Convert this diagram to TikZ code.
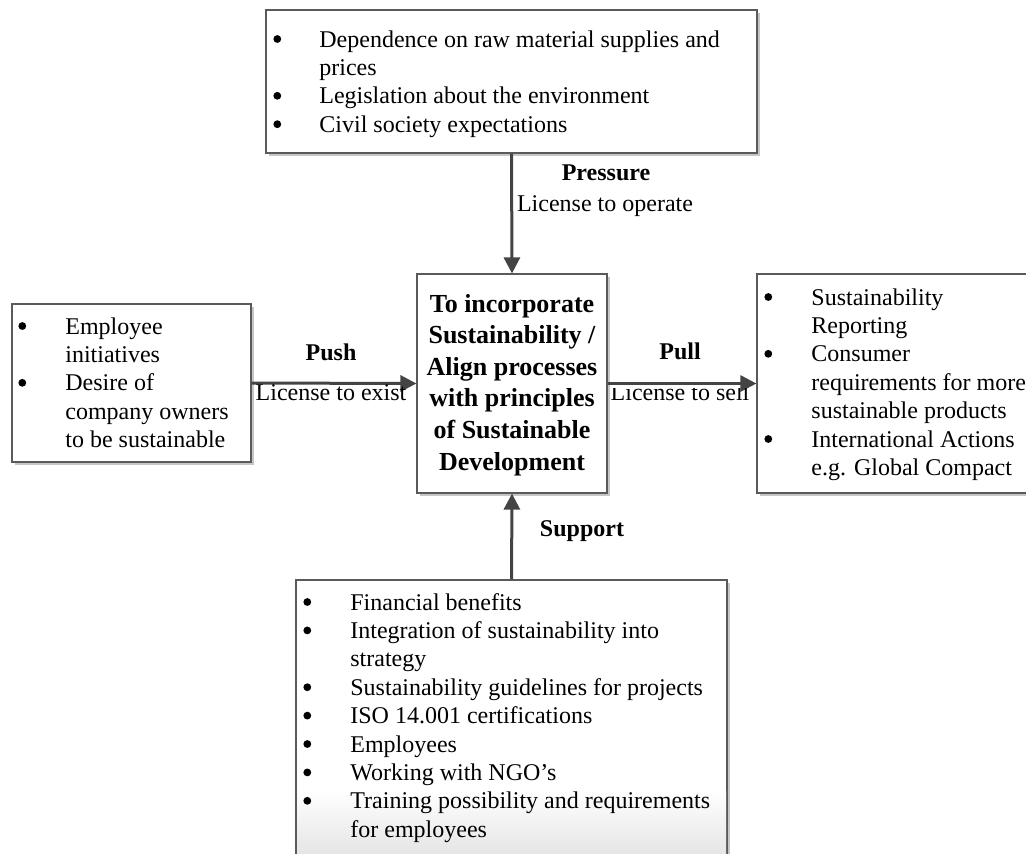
\documentclass[tikz,border=0pt]{standalone}
\usepackage{fontspec}
\setmainfont{Liberation Serif}
\usetikzlibrary{arrows.meta,shadows}
\definecolor{boxc}{HTML}{5A5A5A}
\definecolor{arrc}{HTML}{444444}
\newcommand{\bul}{\tikz[baseline=0pt,x=1pt,y=1pt]\fill[black] (2,4) circle[radius=1.95pt];}
\begin{document}
\begin{tikzpicture}[x=0.5pt,y=-0.5pt,
  box/.style={draw=boxc, line width=0.6pt, fill=white, inner sep=0pt,
    drop shadow={shadow xshift=1.6pt, shadow yshift=-1.6pt, fill=gray!45, opacity=1}},
  txt/.style={inner sep=0pt, anchor=base west, font=\fontsize{12}{14.2}\selectfont},
  lbl/.style={inner sep=0pt, anchor=base, font=\fontsize{12}{14}\selectfont},
  blbl/.style={lbl, font=\bfseries\fontsize{12}{14}\selectfont},
  arr/.style={draw=arrc, line width=1.5pt, -{Triangle[length=8pt,width=8pt]}}]
\useasboundingbox (0,0) rectangle (1026,853);
\clip (0,0) rectangle (1026,853);

% boxes
\node[box, minimum width=245.5pt, minimum height=71.5pt] (top) at (511.5,81.5) {};
\node[box, minimum width=119.5pt, minimum height=79pt] (left) at (131.5,383) {};
\node[box, minimum width=95pt, minimum height=109.5pt] (center) at (512,383.5) {};
\node[box, minimum width=141.5pt, minimum height=109.5pt] (right) at (898.5,383.5) {};
\node[box, minimum width=215.5pt, minimum height=145pt] (bottom) at (511.5,725) {};
\fill[top color=white, bottom color=gray!20] (297,790) rectangle (726,853);

% texts
\node[txt] (toptext) at (273,47) {\begin{tabular}[t]{@{}p{23pt}@{}l@{}}
\bul & Dependence on raw material supplies and\\
 & prices\\
\bul & Legislation about the environment\\
\bul & Civil society expectations
\end{tabular}};
\node[txt] (lefttext) at (18,334) {\begin{tabular}[t]{@{}p{23.5pt}@{}l@{}}
\bul & Employee\\
 & initiatives\\
\bul & Desire of\\
 & company owners\\
 & to be sustainable
\end{tabular}};
\node[txt] (righttext) at (764,305) {\begin{tabular}[t]{@{}p{23.5pt}@{}l@{}}
\bul & Sustainability\\
 & Reporting\\
\bul & Consumer\\
 & requirements for more\\
 & sustainable products\\
\bul & International Actions\\
 & e.g. Global Compact
\end{tabular}};
\node[txt] (bottomtext) at (303,610) {\begin{tabular}[t]{@{}p{23.5pt}@{}l@{}}
\bul & Financial benefits\\
\bul & Integration of sustainability into\\
 & strategy\\
\bul & Sustainability guidelines for projects\\
\bul & ISO 14.001 certifications\\
\bul & Employees\\
\bul & Working with NGO’s\\
\bul & Training possibility and requirements\\
 & for employees
\end{tabular}};
\node[inner sep=0pt, anchor=base, font=\bfseries\fontsize{13}{15.8}\selectfont] (centertext) at (512,312)
 {\begin{tabular}[t]{@{}c@{}}To incorporate\\Sustainability /\\Align processes\\with principles\\of Sustainable\\Development\end{tabular}};

% connectors
\draw[arr] (top.south) -- (center.north);
\draw[arr] (left.east) -- (center.west);
\draw[arr] (center.east) -- (right.west);
\draw[arr] (bottom.north) -- (center.south);

% labels
\node[blbl] (pressure) at (606,180) {Pressure};
\node[lbl] (operate) at (605,211) {License to operate};
\node[blbl] (push) at (331,360) {Push};
\node[lbl] (exist) at (331,400) {License to exist};
\node[blbl] (pull) at (680,359) {Pull};
\begin{scope}
\clip (600,388) rectangle (757,420);
\node[lbl] (sell) at (680,400) {License to sell};
\end{scope}
\node[blbl] (support) at (582,536) {Support};
\end{tikzpicture}
\end{document}
